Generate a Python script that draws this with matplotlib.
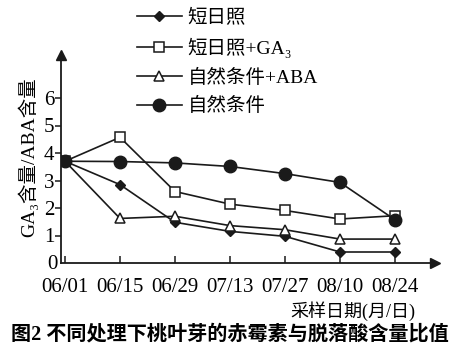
import matplotlib
matplotlib.use('Agg')
import matplotlib.pyplot as plt

plt.rcParams['font.family'] = ['Liberation Serif', 'Noto Sans CJK SC', 'DejaVu Serif']

# данные
dates = ['06/01', '06/15', '06/29', '07/13', '07/27', '08/10', '08/24']
short_day = [3.7, 2.85, 1.48, 1.15, 0.97, 0.4, 0.4]
short_day_ga = [3.7, 4.57, 2.6, 2.14, 1.91, 1.6, 1.72]
natural_aba = [3.7, 1.62, 1.7, 1.36, 1.21, 0.87, 0.87]
natural = [3.7, 3.69, 3.64, 3.51, 3.25, 2.93, 1.57]
labels = ['短日照', '短日照+GA₃', '自然条件+ABA', '自然条件']

W, H = 462, 345
fig = plt.figure(figsize=(W / 100, H / 100), dpi=100)
ax = fig.add_axes([61 / W, 82 / H, 374 / W, 208 / H])

x = list(range(len(dates)))
c = '#1a1a1a'
ax.plot(x, short_day, color=c, lw=1.2, marker='D', ms=5.5, mfc=c, mec=c, label=labels[0])
ax.plot(x, short_day_ga, color=c, lw=1.2, marker='s', ms=7.5, mfc='white', mec=c, mew=1.1, label=labels[1])
ax.plot(x, natural_aba, color=c, lw=1.2, marker='^', ms=7.5, mfc='white', mec=c, mew=1.1, label=labels[2])
ax.plot(x, natural, color=c, lw=1.2, marker='o', ms=9, mfc=c, mec=c, label=labels[3])

ax.set_xlim(-4 / 55, 370 / 55)
ax.set_ylim(0, 208 / 27.5)
ax.set_xticks(x)
ax.set_xticklabels(dates)
ax.set_yticks([1, 2, 3, 4, 5, 6])
ax.tick_params(axis='x', direction='in', length=5, width=1.1, labelsize=15, pad=11, color=c)
ax.tick_params(axis='y', direction='out', length=4, width=1.1, labelsize=15, pad=1, color=c)
ax.text(-0.01, -0.005, '0', transform=ax.transAxes, ha='right', va='center', fontsize=15)

for s in ['top', 'right']:
    ax.spines[s].set_visible(False)
for s in ['left', 'bottom']:
    ax.spines[s].set_linewidth(1.3)
    ax.spines[s].set_color(c)
# стрелки на осях
ax.plot(1, 0, '>', color=c, ms=7, transform=ax.transAxes, clip_on=False)
ax.plot(0, 1, '^', color=c, ms=7, transform=ax.transAxes, clip_on=False)

ax.legend(loc='upper left', bbox_to_anchor=(137 / W, 1 - 9 / H), bbox_transform=fig.transFigure,
          frameon=False, fontsize=14, handlelength=2.3, handletextpad=0.3,
          labelspacing=0.55, borderpad=0, borderaxespad=0)

fig.text(28 / W, 1 - 157 / H, 'GA₃含量/ABA含量', rotation=90, ha='center', va='center', fontsize=14)
fig.text(415 / W, 1 - 311 / H, '采样日期(月/日)', ha='right', va='center', fontsize=13)
fig.text(11 / W, 1 - 335 / H, '图2 不同处理下桃叶芽的赤霉素与脱落酸含量比值', ha='left', va='center',
         fontsize=14.5, fontweight='bold')

fig.savefig('out.png', dpi=100)
